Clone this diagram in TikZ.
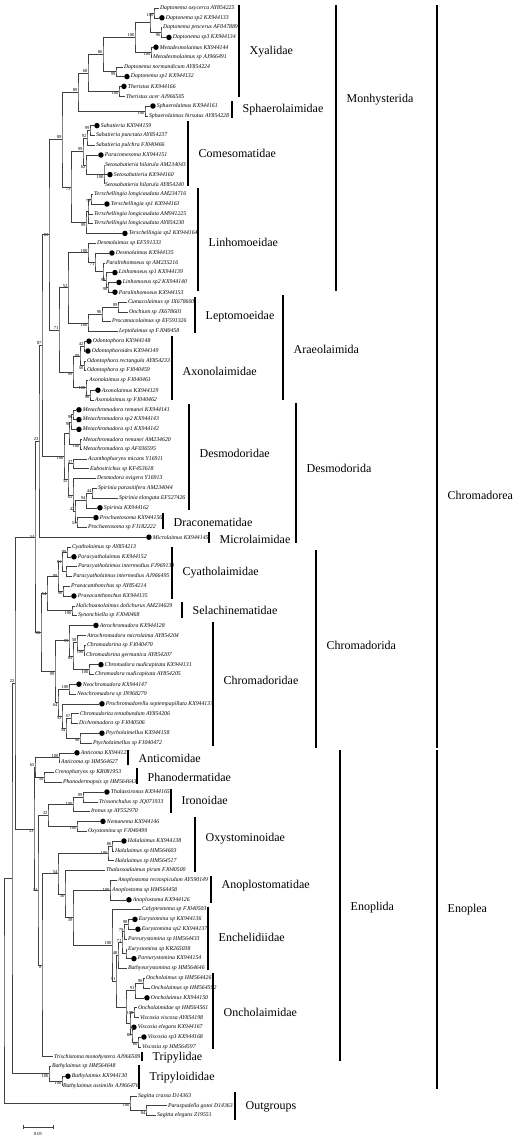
\documentclass[tikz,border=0pt]{standalone}
\usepackage{fontspec}
\setmainfont{Liberation Serif}
\usetikzlibrary{calc}

\tikzstyle{leaf}   = [anchor=west, inner sep=0.8pt, font=\fontsize{5.8}{6}\selectfont\itshape]
\tikzstyle{kdot}   = [circle, fill=black, inner sep=0pt, minimum size=5.5pt, anchor=west]
\tikzstyle{boot}   = [inner sep=0.4pt, font=\fontsize{4.6}{5}\selectfont]
\tikzstyle{branch} = [draw, black!75, line width=0.55pt]
\tikzstyle{group}  = [draw, line width=1.4pt]
\tikzstyle{fam}    = [anchor=west, inner sep=0pt, font=\fontsize{12}{14}\selectfont]

% taxon: name, tip x, row, text
\newcommand{\taxon}[4]{\node[leaf] (#1) at (#2,{8+9.8*(#3-1)}) {#4};}
\newcommand{\kxtaxon}[4]{\node[kdot] (#1) at (#2,{8+9.8*(#3-1)}) {};
  \node[leaf] (#1-t) at (#1.east) {#4};}
% clade: name, x, first child, last child, label position, bootstrap
\newcommand{\clade}[6]{%
  \path let \p1 = ($(#3)!0.5!(#4)$) in coordinate[label={[boot]#5:#6}] (#1) at (#2pt,\y1);
  \draw[branch] (#3) -| (#1) |- (#4);}
% group bar: name, x, top, bottom, text y, text
\newcommand{\grp}[6]{%
  \draw[group] (#2,#3) -- (#2,#4);
  \node[fam] (#1) at (#2+10.5,#5) {#6};}

\begin{document}
\begin{tikzpicture}[x=1pt, y=-1pt]
\useasboundingbox (0,0) rectangle (526,1140);

% taxa
\taxon{dox}{159}{1}{Daptonema oxycerca AY854225}
\kxtaxon{dsp2}{159}{2}{Daptonema sp2 KX944133}
\taxon{dpro}{162}{3}{Daptonema procerus AF047889}
\kxtaxon{dsp3}{166}{4}{Daptonema sp3 KX944134}
\kxtaxon{mdk}{153}{5}{Metadesmolaimus KX944144}
\taxon{mds}{152}{6}{Metadesmolaimus sp AJ966491}
\taxon{dnor}{123}{7}{Daptonema normandicum AY854224}
\kxtaxon{dsp1}{124}{8}{Daptonema sp1 KX944132}
\kxtaxon{thk}{121}{9}{Theristus KX944166}
\taxon{tha}{125}{10}{Theristus acer AJ966505}
\kxtaxon{spk}{150}{11}{Sphaerolaimus KX944161}
\taxon{sph}{148}{12}{Sphaerolaimus hirsutus AY854228}
\kxtaxon{sabk}{94}{13}{Sabatieria KX944159}
\taxon{sabp}{95}{14}{Sabatieria punctata AY854237}
\taxon{sabu}{95}{15}{Sabatieria pulchra FJ040466}
\kxtaxon{pck}{98}{16}{Paracomesoma KX944151}
\taxon{seta}{104}{17}{Setosabatieria hilarula AM234043}
\kxtaxon{setk}{107}{18}{Setosabatieria KX944160}
\taxon{sety}{104}{19}{Setosabatieria hilarula AY854240}
\taxon{tla}{93}{20}{Terschellingia longicaudata AM234716}
\kxtaxon{tsp1}{104}{21}{Terschellingia sp1 KX944163}
\taxon{tlb}{93}{22}{Terschellingia longicaudata AM941225}
\taxon{tlc}{93}{23}{Terschellingia longicaudata AY854230}
\kxtaxon{tsp2}{122}{24}{Terschellingia sp2 KX944164}
\taxon{desa}{96}{25}{Desmolaimus sp EF591333}
\kxtaxon{desk}{109}{26}{Desmolaimus KX944135}
\taxon{plsp}{105}{27}{Paralinhomoeus sp AM235216}
\kxtaxon{lin1}{112}{28}{Linhomoeus sp1 KX944139}
\kxtaxon{lin2}{116}{29}{Linhomoeus sp2 KX944140}
\kxtaxon{plk}{112}{30}{Paralinhomoeus KX944153}
\taxon{cum}{127}{31}{Cumacolaimus sp JX678600}
\taxon{onch}{128}{32}{Onchium sp JX678601}
\taxon{proc}{111}{33}{Procamacolaimus sp EF591326}
\taxon{lept}{118}{34}{Leptolaimus sp FJ040458}
\kxtaxon{odk}{86}{35}{Odontophora KX944148}
\kxtaxon{odsk}{85}{36}{Odontophoroides KX944149}
\taxon{odr}{86}{37}{Odontophora rectangula AY854233}
\taxon{ods}{86}{38}{Odontophora sp FJ040459}
\taxon{axa}{88}{39}{Axonolaimus sp FJ040461}
\kxtaxon{axk}{95}{40}{Axonolaimus KX944129}
\taxon{axb}{94}{41}{Axonolaimus sp FJ040462}
\kxtaxon{mrk}{76}{42}{Metachromadora remanei KX944141}
\kxtaxon{m2k}{76}{43}{Metachromadora sp2 KX944143}
\kxtaxon{m1k}{76}{44}{Metachromadora sp1 KX944142}
\taxon{mra}{82}{45}{Metachromadora remanei AM234620}
\taxon{msp}{82}{46}{Metachromadora sp AF036595}
\taxon{aca}{87}{47}{Acanthopharynx micans Y16911}
\taxon{eub}{89}{48}{Eubostrichus sp KF453618}
\taxon{dov}{96}{49}{Desmodora ovigera Y16913}
\taxon{spp}{97}{50}{Spirinia parasitifera AM234044}
\taxon{spe}{118}{51}{Spirinia elongata EF527426}
\kxtaxon{spk2}{97}{52}{Spirinia KX944162}
\kxtaxon{prk}{93}{53}{Prochaetosoma KX944156}
\taxon{prs}{87}{54}{Prochaetosoma sp FJ182222}
\kxtaxon{mic}{146}{55}{Microlaimus KX944145}
\taxon{cya}{71}{56}{Cyatholaimus sp AY854213}
\kxtaxon{pcyk}{71}{57}{Paracyatholaimus KX944152}
\taxon{pcyf}{77}{58}{Paracyatholaimus intermedius FJ969133}
\taxon{pcya}{72}{59}{Paracyatholaimus intermedius AJ966495}
\taxon{pras}{70}{60}{Praeacanthonchus sp AY854214}
\kxtaxon{prak}{71}{61}{Praeacanthonchus KX944135}
\taxon{hal}{75}{62}{Halichoanolaimus dolichurus AM234629}
\taxon{syn}{77}{63}{Synonchiella sp FJ040468}
\kxtaxon{atk}{93}{64}{Atrochromadora KX944128}
\taxon{atm}{86}{65}{Atrochromadora microlaima AY854204}
\taxon{cgs}{86}{66}{Chromadorina sp FJ040470}
\taxon{cgg}{85}{67}{Chromadorina germanica AY854207}
\kxtaxon{cnk}{98}{68}{Chromadora nudicapitata KX944131}
\taxon{cna}{94}{69}{Chromadora nudicapitata AY854205}
\kxtaxon{nek}{76}{70}{Neochromadora KX944147}
\taxon{nes}{76}{71}{Neochromadora sp JN968279}
\kxtaxon{prck}{99}{72}{Prochromadorella septempapillata KX944137}
\taxon{ctt}{79}{73}{Chromadorita tentabundum AY854206}
\taxon{dic}{78}{74}{Dichromadora sp FJ040506}
\kxtaxon{ptk}{99}{75}{Ptycholaimellus KX944158}
\taxon{pts}{92}{76}{Ptycholaimellus sp FJ040472}
\kxtaxon{ank}{74}{77}{Anticoma KX944127}
\taxon{ans}{60}{78}{Anticoma sp HM564627}
\taxon{cre}{54}{79}{Crenopharynx sp KR081953}
\taxon{pha}{62}{80}{Phanodermopsis sp HM564643}
\kxtaxon{thak}{104}{81}{Thalassironus KX944165}
\taxon{tri}{98}{82}{Trissonchulus sp JQ071933}
\taxon{iro}{90}{83}{Ironus sp AY552970}
\kxtaxon{nem}{100}{84}{Nemanema KX944146}
\taxon{oxy}{87}{85}{Oxystomina sp FJ040499}
\kxtaxon{halk}{121}{86}{Halalaimus KX944138}
\taxon{hala}{114}{87}{Halalaimus sp HM564603}
\taxon{halb}{114}{88}{Halalaimus sp HM564517}
\taxon{tpir}{105}{89}{Thalassoalaimus pirum FJ040500}
\taxon{anr}{117}{90}{Anoplostoma rectospiculum AY590149}
\taxon{ans2}{111}{91}{Anoplostoma sp HM564458}
\kxtaxon{ank2}{126}{92}{Anoplostoma KX944126}
\taxon{cal}{141}{93}{Calyptronema sp FJ040503}
\kxtaxon{euk}{132}{94}{Eurystomina sp KX944136}
\kxtaxon{eu2k}{135}{95}{Eurystomina sp2 KX944137}
\taxon{pes}{127}{96}{Pareurystomina sp HM564433}
\taxon{eus}{127}{97}{Eurystomina sp KR265038}
\kxtaxon{pek}{131}{98}{Pareurystomina KX944154}
\taxon{bas}{127}{99}{Bathyeurystomina sp HM564646}
\taxon{onsa}{145}{100}{Oncholaimus sp HM564426}
\taxon{onsb}{150}{101}{Oncholaimus sp HM564592}
\kxtaxon{onk}{144}{102}{Oncholaimus KX944150}
\taxon{ocs}{137}{103}{Oncholaimidae sp HM564561}
\taxon{vvi}{139}{104}{Viscosia viscosa AY854198}
\kxtaxon{vek}{131}{105}{Viscosia elegans KX944167}
\kxtaxon{v3k}{141}{106}{Viscosia sp3 KX944168}
\taxon{vsp}{141}{107}{Viscosia sp HM564597}
\taxon{tmo}{53}{108}{Trischistoma monohystera AJ966509}
\taxon{bhs}{51}{109}{Bathylaimus sp HM564648}
\kxtaxon{bhk}{65}{110}{Bathylaimus KX944130}
\taxon{bha}{62}{111}{Bathylaimus assimilis AJ966476}
\taxon{sgc}{137}{112}{Sagitta crassa D14363}
\taxon{pgo}{167}{113}{Paraspadella gotoi D14363}
\taxon{sge}{156}{114}{Sagitta elegans Z19551}

% Monhysterida part
\clade{d1}{154}{dox}{dsp2}{below left}{100}
\clade{d2}{161}{dpro}{dsp3}{below left}{96}
\clade{d12}{150}{d1}{d2}{left}{}
\clade{m1}{151}{mdk}{mds}{below left}{100}
\clade{x1}{135}{d12}{m1}{above left}{100}
\clade{n1}{116}{dnor}{dsp1}{below left}{99}
\clade{x2}{103}{x1}{n1}{above left}{86}
\clade{th}{119}{thk}{tha}{below left}{100}
\clade{x3}{88}{x2}{th}{above left}{68}
\clade{sp}{145}{spk}{sph}{below left}{100}
\clade{x4}{78}{x3}{sp}{above left}{89}
\clade{sa1}{90}{sabk}{sabp}{above left}{99}
\clade{sa2}{87}{sa1}{sabu}{above left}{92}
\clade{set}{104}{seta}{sety}{below left}{100}
\draw[branch] (set) |- (setk);
\clade{ps}{86}{pck}{set}{below left}{62}
\clade{c1}{83}{sa2}{ps}{above left}{99}
\clade{te1}{91}{tla}{tsp1}{below left}{79}
\clade{te2}{88}{te1}{tlc}{left}{}
\draw[branch] (te2) |- (tlb);
\clade{te3}{86}{te2}{tsp2}{below left}{99}
\clade{l1}{71}{c1}{te3}{below left}{73}
\clade{x5}{62}{x4}{l1}{above left}{89}
\clade{la}{108}{lin2}{plk}{below left}{98}
\clade{lb}{106}{lin1}{la}{left}{99}
\clade{lc}{103}{plsp}{lb}{left}{}
\clade{ld}{95}{desk}{lc}{below left}{71}
\clade{le}{88}{desa}{ld}{above left}{100}
\clade{lp1}{118}{cum}{onch}{above left}{99}
\clade{lp2}{102}{lp1}{proc}{above left}{96}
\clade{lp3}{88}{lp2}{lept}{below left}{100}
\clade{lf}{68}{le}{lp3}{above left}{52}
\clade{od1}{84}{odk}{odsk}{above left}{42}
\clade{od2}{84}{odr}{ods}{below left}{50}
\clade{od}{80}{od1}{od2}{left}{99}
\clade{ax1}{90}{axk}{axb}{below left}{96}
\clade{ax}{86}{axa}{ax1}{left}{100}
\clade{axo}{73}{od}{ax}{below left}{99}
\clade{a1}{59}{lf}{axo}{above left}{71}
\clade{mon}{49}{x5}{a1}{left}{83}

% Desmodorida part
\clade{me1}{73}{mrk}{m2k}{below left}{96}
\clade{me2}{71}{me1}{m1k}{below left}{98}
\clade{me3}{80}{mra}{msp}{below left}{100}
\clade{me}{69}{me2}{me3}{left}{}
\clade{ac}{73}{aca}{eub}{above left}{37}
\clade{sp1}{92}{spp}{spe}{above left}{44}
\clade{sp2}{86}{sp1}{spk2}{above left}{94}
\clade{pr}{77}{prk}{prs}{left}{53}
\clade{sp3}{75}{sp2}{pr}{above left}{42}
\clade{sp4}{73}{dov}{sp3}{below left}{62}
\clade{dd2}{68}{ac}{sp4}{below left}{32}
\clade{dd3}{64}{me}{dd2}{below left}{100}
\clade{b1}{42}{mon}{dd3}{above left}{87}
\clade{b2}{39}{b1}{mic}{above left}{23}

% Chromadorida part
\clade{cy1}{67}{cya}{pcyk}{left}{99}
\clade{cy2}{66}{pcyf}{pcya}{left}{}
\clade{cy3}{62}{cy1}{cy2}{left}{81}
\clade{pr2}{63}{pras}{prak}{below left}{90}
\clade{cy4}{58}{cy3}{pr2}{left}{99}
\clade{se}{72}{hal}{syn}{below left}{100}
\clade{cy5}{47}{cy4}{se}{left}{54}
\clade{chr1}{84}{cgs}{cgg}{below left}{100}
\clade{chr2}{77}{atm}{chr1}{above left}{58}
\clade{chr3}{89}{cnk}{cna}{below left}{100}
\clade{chr4}{73}{chr2}{chr3}{below left}{85}
\clade{chr5}{69}{atk}{chr4}{left}{99}
\clade{neo}{69}{nek}{nes}{above left}{100}
\clade{cht}{71}{ctt}{dic}{above left}{67}
\clade{pt}{80}{ptk}{pts}{below left}{96}
\clade{pt2}{66}{cht}{pt}{below left}{54}
\clade{pt3}{62}{prck}{pt2}{below left}{55}
\clade{pt4}{58}{neo}{pt3}{below left}{64}
\clade{ch}{55}{chr5}{pt4}{below left}{99}
\clade{cd}{41}{cy5}{ch}{left}{80}
\clade{b3}{35}{b2}{cd}{left}{54}

% Enoplida part
\clade{an}{59}{ank}{ans}{above left}{100}
\clade{ph}{44}{cre}{pha}{below left}{50}
\clade{ap}{35}{an}{ph}{above left}{65}
\clade{ir1}{83}{thak}{tri}{above left}{99}
\clade{ir2}{73}{ir1}{iro}{left}{100}
\clade{ne}{77}{nem}{oxy}{below left}{100}
\clade{irne}{48}{ir2}{ne}{above left}{32}
\clade{ha1}{112}{halk}{hala}{above left}{86}
\clade{ha}{108}{ha1}{halb}{left}{100}
\clade{ano}{110}{anr}{ank2}{left}{100}
\draw[branch] (ano) |- (ans2);
\clade{eu1}{128}{euk}{eu2k}{above left}{98}
\clade{eu2}{124}{eu1}{pes}{above left}{79}
\clade{eu5}{126}{eus}{pek}{left}{}
\clade{eu3}{122}{eu2}{eu5}{above left}{71}
\clade{eu4}{118}{eu3}{bas}{above left}{48}
\clade{on1}{143}{onsa}{onsb}{above left}{96}
\clade{on2}{135}{on1}{onk}{above left}{91}
\clade{vi1}{134}{ocs}{vvi}{left}{100}
\clade{vi2}{138}{v3k}{vsp}{below left}{60}
\clade{vi3}{132}{vek}{vi2}{left}{88}
\clade{vi}{130}{vi1}{vi3}{left}{}
\clade{onc}{126}{on2}{vi}{left}{}
\clade{eb}{116}{eu4}{onc}{above left}{51}
\clade{ec}{112}{cal}{eb}{above left}{100}
\clade{ae}{73}{ano}{ec}{below left}{39}
\clade{tae}{65}{tpir}{ae}{below left}{30}
\clade{hae}{58}{ha}{tae}{above left}{54}
\clade{n8}{42}{hae}{tmo}{below left}{8}
\clade{e2}{38}{irne}{n8}{left}{14}
\clade{e3}{34}{ap}{e2}{below left}{33}

% root
\clade{ba1}{62}{bhk}{bha}{below left}{100}
\clade{ba}{49}{bhs}{ba1}{below left}{100}
\clade{og1}{146}{pgo}{sge}{below left}{84}
\clade{og}{130}{sgc}{og1}{below left}{100}
\clade{r1}{15}{b3}{e3}{above left}{22}
\clade{r2}{12}{r1}{ba}{left}{}
\clade{r0}{4}{r2}{og}{left}{}

% families
\grp{xya}{239}{5}{97}{52}{Xyalidae}
\grp{sph-f}{232}{101}{118}{110}{Sphaerolaimidae}
\grp{com}{188}{121}{186}{153}{Comesomatidae}
\grp{linh}{198}{188}{291}{242}{Linhomoeidae}
\grp{lepto}{195}{297}{333}{317}{Leptomoeidae}
\grp{axon}{172}{336}{400}{371}{Axonolaimidae}
\grp{desm}{189}{404}{510}{453}{Desmodoridae}
\grp{drac}{163}{513}{529}{522}{Draconematidae}
\grp{micr}{209}{532}{543}{539}{Microlaimidae}
\grp{cyat}{172}{547}{599}{573}{Cyatholaimidae}
\grp{sela}{182}{602}{618}{610}{Selachinematidae}
\grp{chro}{213}{622}{746}{680}{Chromadoridae}
\grp{anti}{128}{750}{765}{758}{Anticomidae}
\grp{phan}{137}{768}{784}{777}{Phanodermatidae}
\grp{iron}{171}{789}{813}{800}{Ironoidae}
\grp{oxys}{195}{817}{872}{839}{Oxystominoidae}
\grp{anop}{211}{876}{903}{886}{Anoplostomatidae}
\grp{ench}{208}{907}{970}{937}{Enchelidiidae}
\grp{onco}{213}{973}{1049}{1012}{Oncholaimidae}
\grp{trip}{142}{1052}{1061}{1058}{Tripylidae}
\grp{tripl}{139}{1065}{1089}{1078}{Tripyloididae}
\grp{outg}{235}{1092}{1120}{1107}{Outgroups}

% orders and classes
\grp{monh}{336}{5}{291}{100}{Monhysterida}
\grp{arae}{283}{295}{400}{349}{Araeolaimida}
\grp{desmo}{296}{403}{543}{468}{Desmodorida}
\grp{chromo}{316}{550}{748}{645}{Chromadorida}
\grp{enopo}{340}{750}{1061}{908}{Enoplida}
\grp{chrea}{437}{5}{748}{495}{Chromadorea}
\grp{enoplea}{437}{750}{1089}{910}{Enoplea}

% scale bar
\draw[branch] (23,1127) -- (53,1127);
\draw[branch] (23,1125) -- (23,1129) (53,1125) -- (53,1129);
\node[boot] (scale) at (38,1134) {0.05};
\end{tikzpicture}
\end{document}
